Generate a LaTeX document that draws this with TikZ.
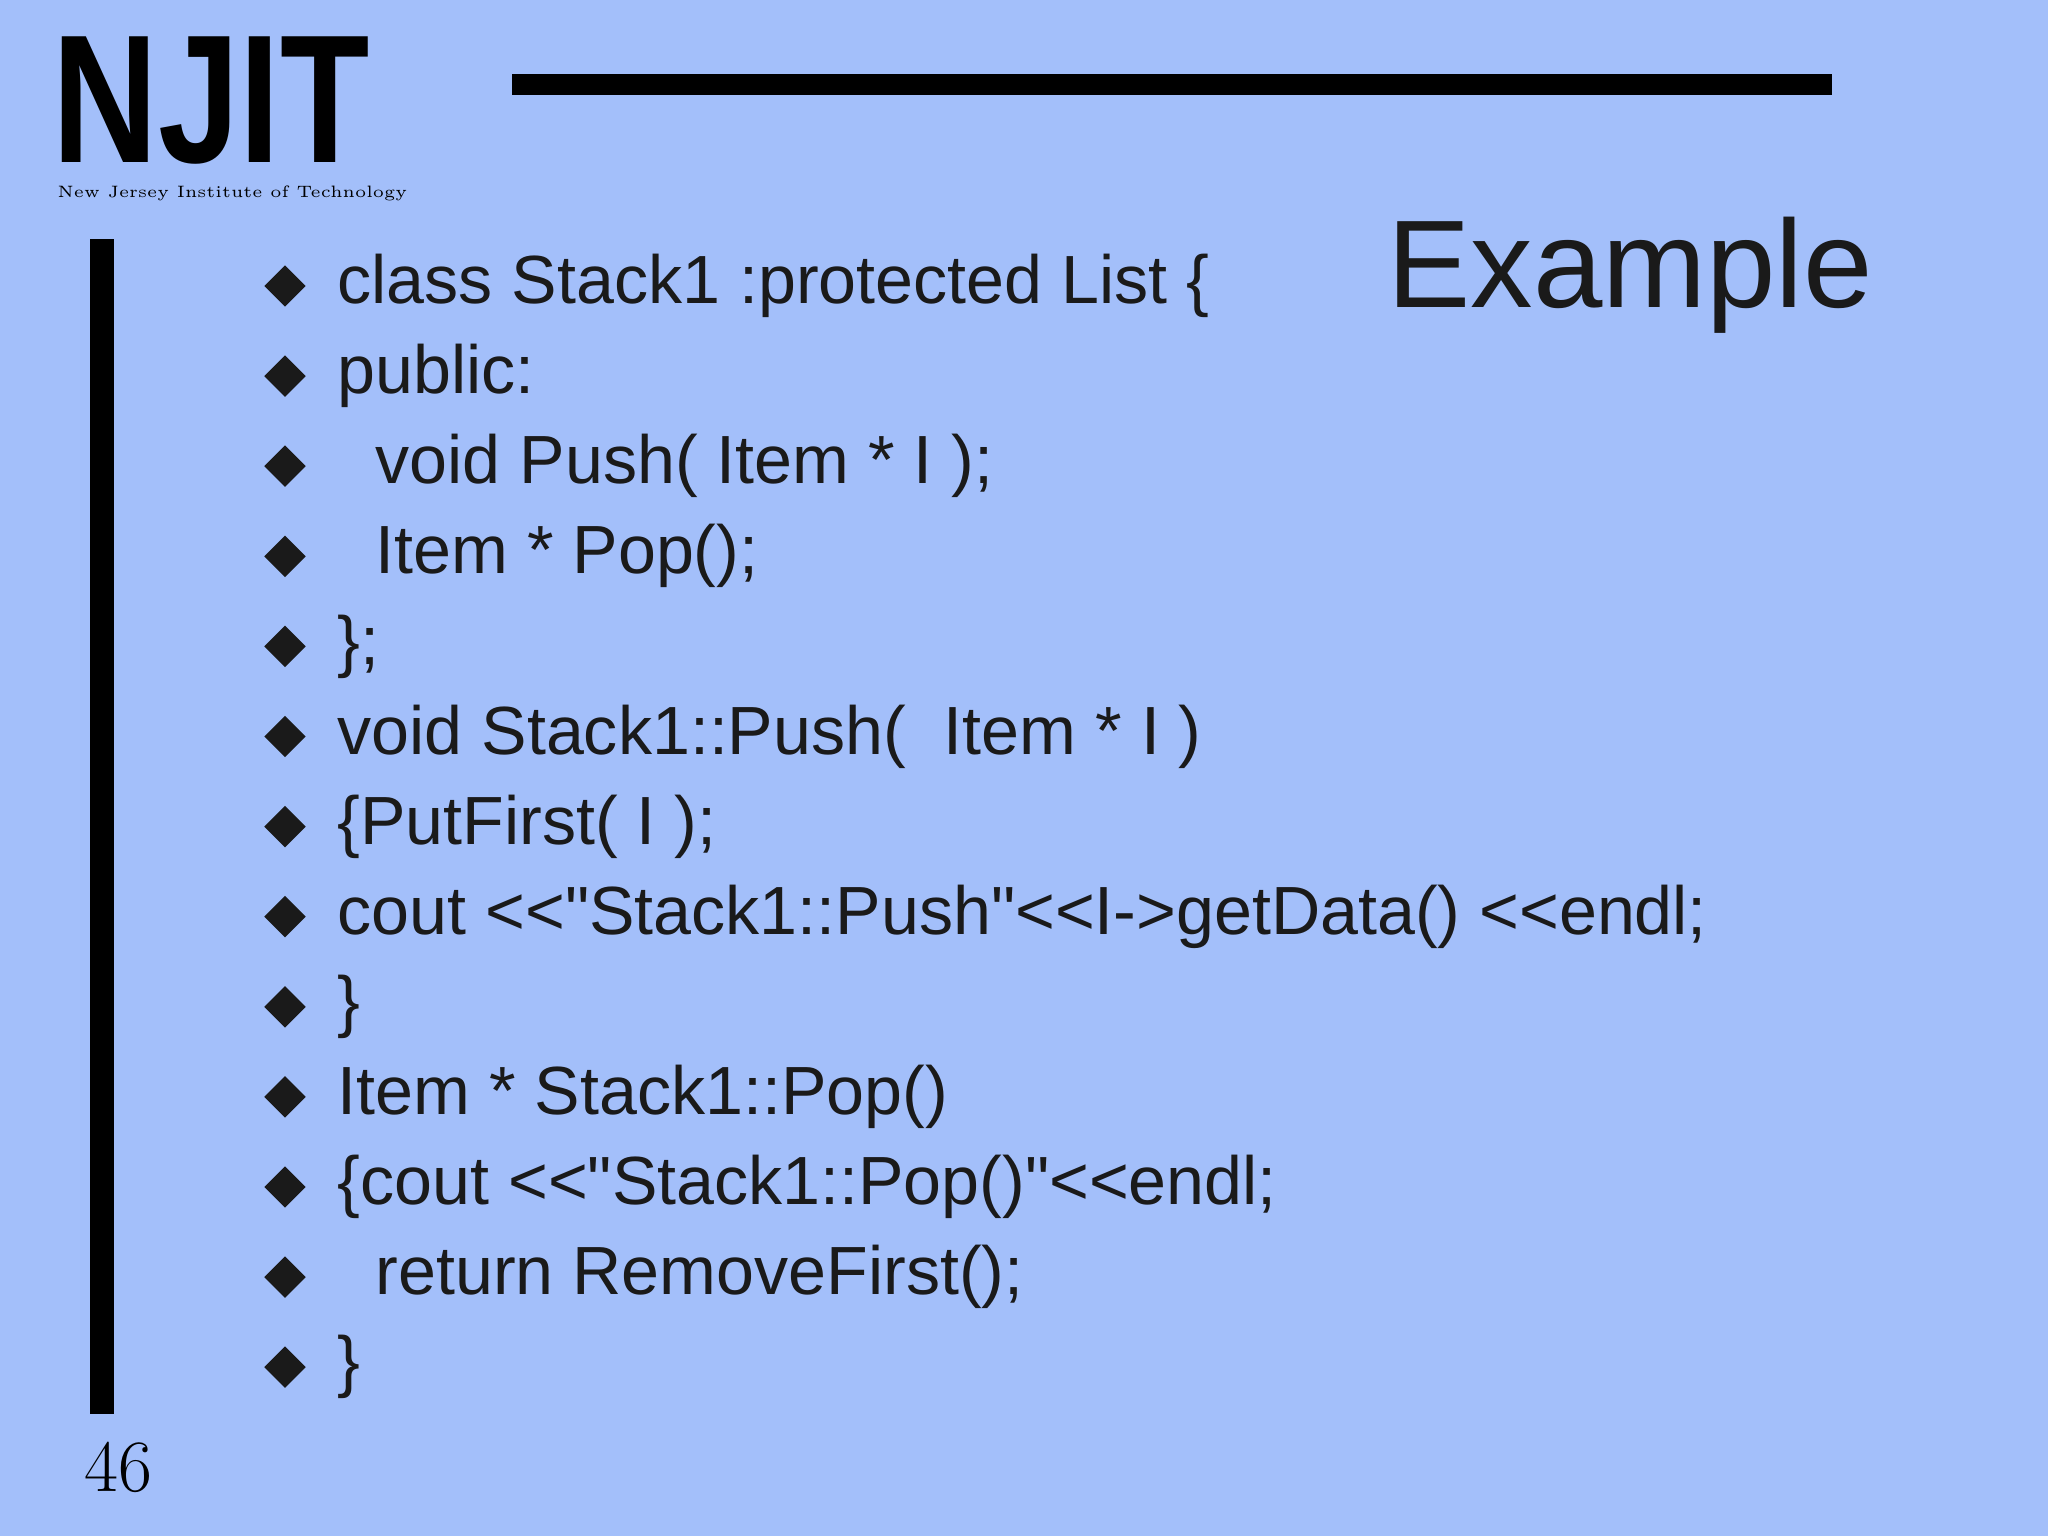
\documentclass[tikz,border=0pt]{standalone}
\usepackage{fontspec}
\setmainfont{Liberation Sans}
\newfontfamily\codefont{Liberation Sans}
\newfontfamily\serifnum{Latin Modern Roman}
\usetikzlibrary{positioning, shapes.geometric}
\definecolor{slidebg}{HTML}{A3BFFA}
\definecolor{ink}{HTML}{1A1A1A}

\tikzset{
  codeline/.style={anchor=west, inner sep=0pt, text=ink, font=\codefont\fontsize{19.4}{21}\selectfont},
  bulletmark/.style={diamond, fill=ink, minimum size=0.42cm, inner sep=0pt},
}

\begin{document}
\begin{tikzpicture}[x=1cm, y=1cm]
  \fill[slidebg] (0,0) rectangle (20.48,-15.36);
  \useasboundingbox (0,0) rectangle (20.48,-15.36);

  % logo and rules
  \node[anchor=north west, inner sep=0pt, text depth=0pt, xscale=0.8, font=\bfseries\fontsize{52}{52}\selectfont] (logo) at (0.52,-0.36) {NJIT};
  \node[anchor=west, inner sep=0pt, font=\serifnum\fontsize{4.7}{6}\selectfont] (logosub) at (0.57,-1.93) {New Jersey Institute of Technology};
  \fill (5.12,-0.74) rectangle (18.32,-0.95);
  \fill (0.90,-2.39) rectangle (1.14,-14.14);
  \node[anchor=west, inner sep=0pt, font=\serifnum\fontsize{21}{22}\selectfont] (pagenum) at (0.84,-14.67) {46};

  % title
  \node[anchor=west, inner sep=0pt, text=ink, font=\fontsize{35.5}{38}\selectfont] (title) at (13.87,-2.75) {Example};

  % code lines
  \foreach \txt/\ind [count=\i from 0] in {
      {class Stack1 :protected List \{}/0,
      {public:}/0,
      {void Push( Item * I );}/1,
      {Item * Pop();}/1,
      {\};}/0,
      {void Stack1::Push(\ \ Item * I )}/0,
      {\{PutFirst( I );}/0,
      {cout <<"Stack1::Push"<<I->getData() <<endl;}/0,
      {\}}/0,
      {Item * Stack1::Pop()}/0,
      {\{cout <<"Stack1::Pop()"<<endl;}/0,
      {return RemoveFirst();}/1,
      {\}}/0} {
    \node[bulletmark] (b\i) at (2.85,-2.86-0.901*\i) {};
    \node[codeline] (c\i) at (3.37+0.38*\ind,-2.86-0.901*\i) {\txt};
  }
\end{tikzpicture}
\end{document}
